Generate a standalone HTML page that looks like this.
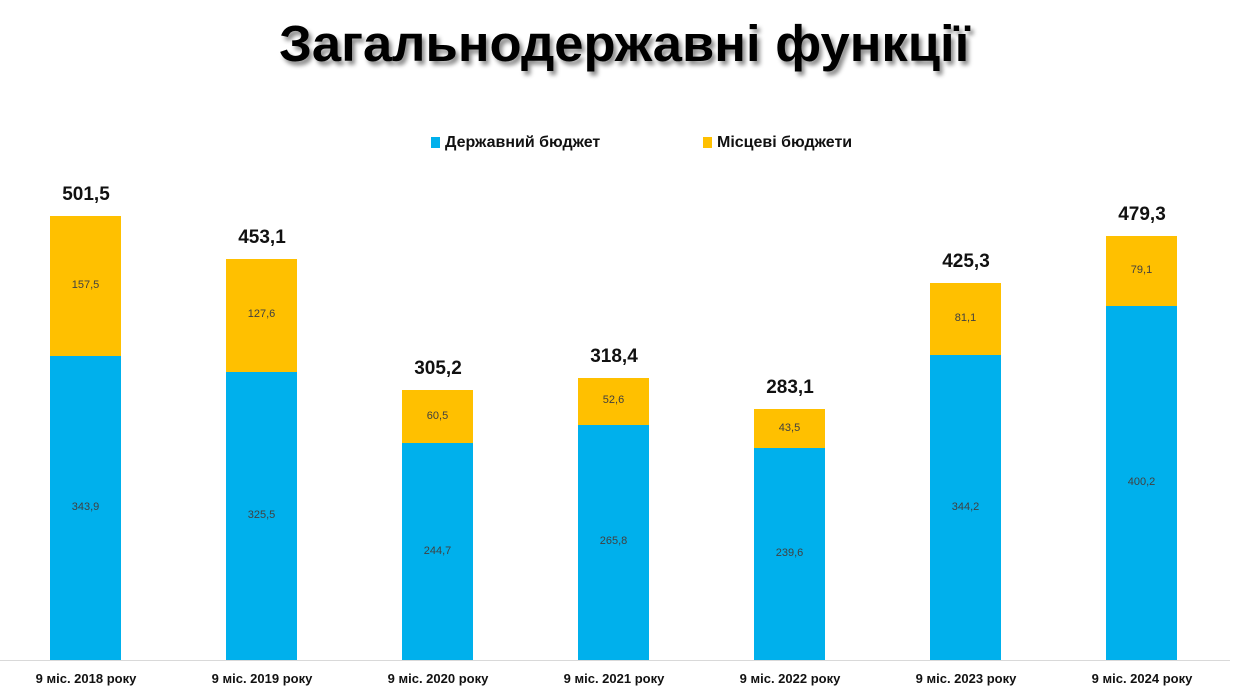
<!DOCTYPE html>
<html><head><meta charset="utf-8"><style>
body{margin:0;width:1248px;height:697px;background:#fff;position:relative;overflow:hidden;font-family:"Liberation Sans",sans-serif}
.t{position:absolute;left:0;width:1248px;top:14px;text-align:center;font-weight:bold;font-size:51px;color:#000;text-shadow:3px 4px 4px rgba(0,0,0,.45)}
.t span{display:inline-block;transform:scaleX(1.03)}
.lg{position:absolute;top:134px;font-size:16px;font-weight:bold;color:#111}
.lg i{display:inline-block;width:9px;height:11px;margin-right:5px;vertical-align:-1px}
.b{position:absolute;width:71px}
.s{background:#00b0ec}.m{background:#ffc000}
.v{position:absolute;width:71px;text-align:center;font-size:11px;color:#404040}
.tot{position:absolute;width:120px;text-align:center;font-size:19px;font-weight:bold;color:#111}
.x{position:absolute;top:671px;width:176px;text-align:center;font-size:13px;font-weight:bold;color:#111}
.ax{position:absolute;left:0;width:1230px;top:660px;height:1px;background:#d9d9d9}
</style></head><body>
<div class="t"><span>Загальнодержавні функції</span></div>
<div class="lg" style="left:431px"><i style="background:#00b0ec"></i>Державний бюджет</div>
<div class="lg" style="left:703px"><i style="background:#ffc000"></i>Місцеві бюджети</div>
<div class="ax"></div>
<div id="c"></div>
<script>
var d=[["2018",343.9,157.5,"501,5","343,9","157,5"],["2019",325.5,127.6,"453,1","325,5","127,6"],["2020",244.7,60.5,"305,2","244,7","60,5"],["2021",265.8,52.6,"318,4","265,8","52,6"],["2022",239.6,43.5,"283,1","239,6","43,5"],["2023",344.2,81.1,"425,3","344,2","81,1"],["2024",400.2,79.1,"479,3","400,2","79,1"]];
var k=0.8853,B=660,h="";
d.forEach(function(r,i){var L=50+176*i,hs=r[1]*k,hm=r[2]*k,sp=B-hs,tp=sp-hm;
h+='<div class="b s" style="left:'+L+'px;top:'+sp+'px;height:'+hs+'px"></div>';
h+='<div class="b m" style="left:'+L+'px;top:'+tp+'px;height:'+hm+'px"></div>';
h+='<div class="v" style="left:'+L+'px;top:'+(sp+hs/2-7)+'px">'+r[4]+'</div>';
h+='<div class="v" style="left:'+L+'px;top:'+(tp+hm/2-7)+'px">'+r[5]+'</div>';
h+='<div class="tot" style="left:'+(L-24)+'px;top:'+(tp-32)+'px">'+r[3]+'</div>';
h+='<div class="x" style="left:'+(L-52)+'px">9 міс. '+r[0]+' року</div>';});
document.getElementById("c").innerHTML=h;
</script>
</body></html>
